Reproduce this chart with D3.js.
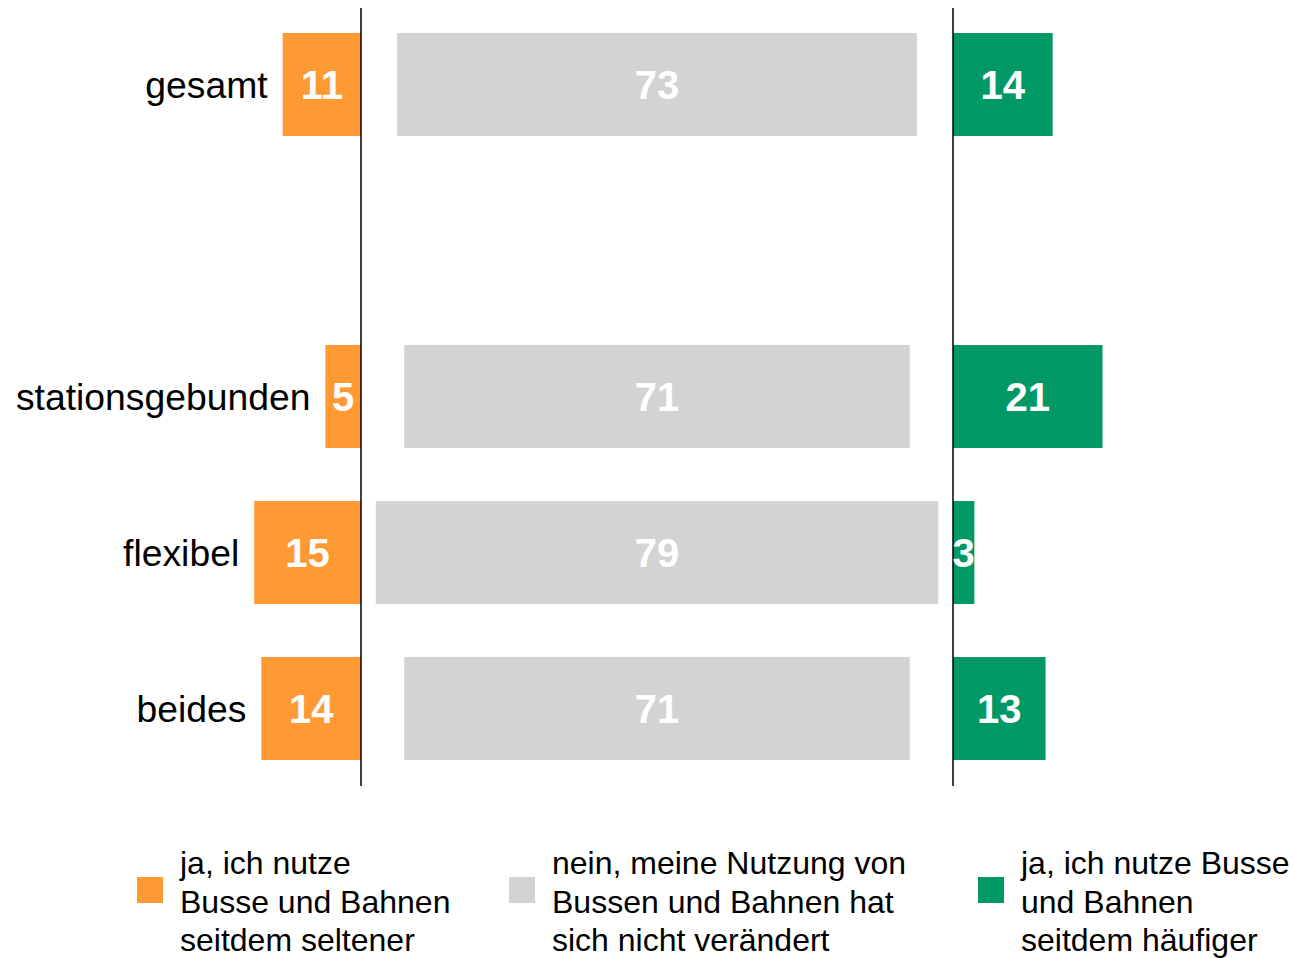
<!DOCTYPE html>
<html>
<head>
<meta charset="utf-8">
<script src="https://cdn.jsdelivr.net/npm/d3@7"></script>
<style>
  html, body { margin: 0; padding: 0; background: #fff; }
  svg { display: block; font-family: "Liberation Sans", Arial, sans-serif; }
</style>
</head>
<body>
<svg id="chart" width="1293" height="958"></svg>
<script>
// ---- data ----
const categories = ["gesamt", "stationsgebunden", "flexibel", "beides"];
const seltener = [11, 5, 15, 14];
const unveraendert = [73, 71, 79, 71];
const haeufiger = [14, 21, 3, 13];
const legendLabels = [
  ["ja, ich nutze", "Busse und Bahnen", "seitdem seltener"],
  ["nein, meine Nutzung von", "Bussen und Bahnen hat", "sich nicht verändert"],
  ["ja, ich nutze Busse", "und Bahnen", "seitdem häufiger"]
];

// ---- styles ----
const colors = ["#FF9933", "#D3D3D3", "#009966"];

const svg = d3.select("#chart");

// layout
const leftAxisX = 361, rightAxisX = 953;
const centerX = (leftAxisX + rightAxisX) / 2;
const slots = ["gesamt", "__gap__", "stationsgebunden", "flexibel", "beides"];
const y = d3.scaleBand().domain(slots).range([33, 760]).paddingInner(0.34).paddingOuter(0);
const len = d3.scaleLinear().domain([0, 100]).range([0, 712]);

const rows = categories.map((c, i) => ({ c, s: seltener[i], u: unveraendert[i], h: haeufiger[i] }));

const g = svg.append("g");
g.selectAll("rect.sel").data(rows).join("rect")
  .attr("x", d => leftAxisX - len(d.s)).attr("y", d => y(d.c))
  .attr("width", d => len(d.s)).attr("height", y.bandwidth())
  .attr("fill", colors[0]);
g.selectAll("rect.unv").data(rows).join("rect")
  .attr("x", d => centerX - len(d.u) / 2).attr("y", d => y(d.c))
  .attr("width", d => len(d.u)).attr("height", y.bandwidth())
  .attr("fill", colors[1]);
g.selectAll("rect.hae").data(rows).join("rect")
  .attr("x", rightAxisX).attr("y", d => y(d.c))
  .attr("width", d => len(d.h)).attr("height", y.bandwidth())
  .attr("fill", colors[2]);

// axis lines
[leftAxisX, rightAxisX].forEach(x => {
  svg.append("line").attr("x1", x).attr("x2", x).attr("y1", 8).attr("y2", 786)
    .attr("stroke", "#000").attr("stroke-width", 1.5);
});

// value labels
const vl = svg.append("g").attr("font-weight", "bold").attr("font-size", 40)
  .attr("fill", "#fff").attr("text-anchor", "middle");
rows.forEach(d => {
  const cy = y(d.c) + y.bandwidth() / 2;
  vl.append("text").attr("x", leftAxisX - len(d.s) / 2).attr("y", cy).attr("dy", "0.36em").text(d.s);
  vl.append("text").attr("x", centerX).attr("y", cy).attr("dy", "0.36em").text(d.u);
  vl.append("text").attr("x", rightAxisX + len(d.h) / 2).attr("y", cy).attr("dy", "0.36em").text(d.h);
});

// category labels
svg.append("g").attr("font-size", 37.3).attr("fill", "#000").attr("text-anchor", "end")
  .selectAll("text").data(rows).join("text")
  .attr("x", d => leftAxisX - len(d.s) - 15)
  .attr("y", d => y(d.c) + y.bandwidth() / 2).attr("dy", "0.36em")
  .text(d => d.c);

// legend
const legX = [137, 509, 978];
const lg = svg.append("g");
legendLabels.forEach((lines, i) => {
  lg.append("rect").attr("x", legX[i]).attr("y", 877).attr("width", 26).attr("height", 26).attr("fill", colors[i]);
  const t = lg.append("text").attr("font-size", 32).attr("fill", "#000");
  lines.forEach((ln, j) => {
    t.append("tspan").attr("x", legX[i] + 43).attr("y", 874 + j * 38.5).text(ln);
  });
});
</script>
</body>
</html>
